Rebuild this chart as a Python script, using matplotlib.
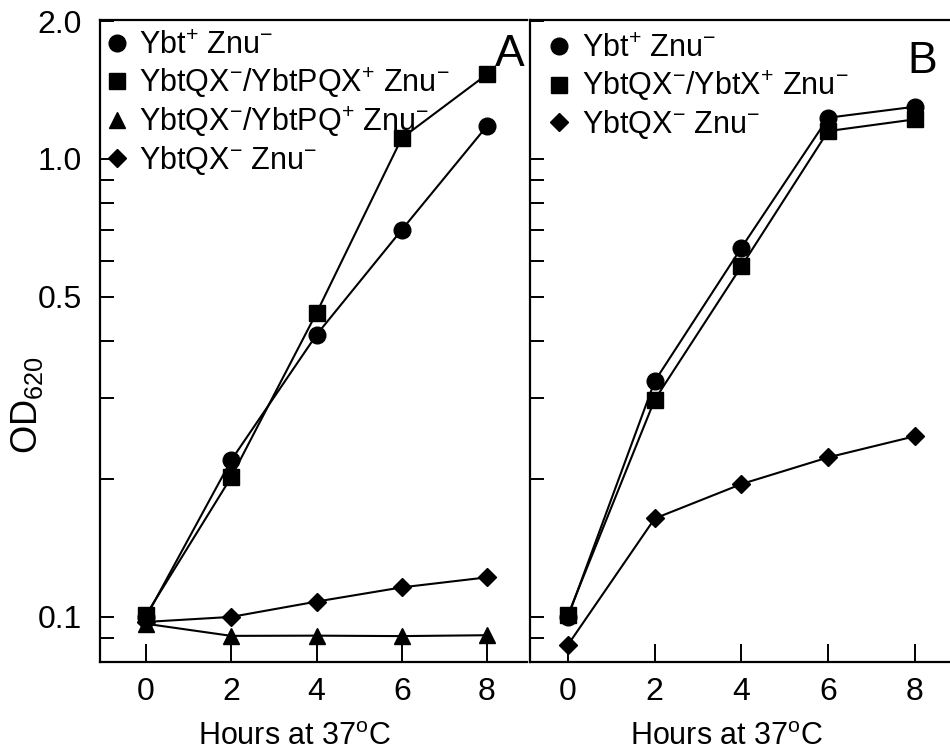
"""
Growth curves (OD620 vs time) for Ybt / Znu mutants, two panels, log y.
"""

import matplotlib
matplotlib.use("Agg")
import matplotlib.pyplot as plt
from matplotlib.lines import Line2D

plt.rcParams["font.family"] = ["Liberation Sans", "DejaVu Sans"]
plt.rcParams["mathtext.default"] = "regular"

# ---------------- DATA ----------------

HOURS = [0, 2, 4, 6, 8]

# panel A
A_YBT = [0.100, 0.220, 0.413, 0.700, 1.18]
A_PQX = [0.101, 0.202, 0.461, 1.11, 1.53]
A_PQ = [0.0966, 0.0909, 0.0910, 0.0908, 0.0912]
A_QX = [0.0975, 0.100, 0.108, 0.116, 0.122]
A_LABELS = ["Ybt$^{+}$ Znu$^{-}$",
            "YbtQX$^{-}$/YbtPQX$^{+}$ Znu$^{-}$",
            "YbtQX$^{-}$/YbtPQ$^{+}$ Znu$^{-}$",
            "YbtQX$^{-}$ Znu$^{-}$"]

# panel B
B_YBT = [0.100, 0.327, 0.640, 1.23, 1.30]
B_X = [0.101, 0.298, 0.583, 1.15, 1.22]
B_QX = [0.0869, 0.164, 0.195, 0.223, 0.248]
B_LABELS = ["Ybt$^{+}$ Znu$^{-}$",
            "YbtQX$^{-}$/YbtX$^{+}$ Znu$^{-}$",
            "YbtQX$^{-}$ Znu$^{-}$"]

Y_TICKS = [0.09, 0.1, 0.2, 0.3, 0.4, 0.5, 0.6, 0.7, 0.8, 0.9, 1.0, 2.0]
Y_TICK_LABELS = {0.1: "0.1", 0.5: "0.5", 1.0: "1.0", 2.0: "2.0"}
X_TICKS = [0, 2, 4, 6, 8]

# marker styles: (marker, size)
CIRCLE = ("o", 12)
SQUARE = ("s", 12)
TRIANGLE = ("^", 12)
DIAMOND = ("D", 9)

TICK_FS = 23
LEGEND_FS = 22
LABEL_FS = 22


def style_axes(ax, xlim, show_ylabels):
    ax.set_yscale("log")
    ax.set_ylim(0.0797, 2.01)
    ax.set_xlim(*xlim)
    ax.spines["right"].set_visible(False)
    for s in ("left", "top", "bottom"):
        ax.spines[s].set_linewidth(1.6)
    ax.minorticks_off()
    ax.set_yticks(Y_TICKS)
    if show_ylabels:
        ax.set_yticklabels([Y_TICK_LABELS.get(t, "") for t in Y_TICKS])
    else:
        ax.set_yticklabels([])
    ax.set_xticks(X_TICKS)
    ax.set_xticklabels([str(t) for t in X_TICKS])
    ax.tick_params(axis="y", which="both", direction="in", length=10, width=1.4,
                   labelsize=TICK_FS, pad=13, right=False)
    ax.tick_params(axis="x", direction="in", length=13, width=1.4,
                   labelsize=TICK_FS, pad=11, top=False)
    ax.set_xlabel("Hours at 37$^{o}$C", fontsize=LABEL_FS)


def draw_series(ax, y, style, z):
    m, ms = style
    ax.plot(HOURS, y, color="black", lw=1.5, marker=m, ms=ms,
            markeredgecolor="black", markerfacecolor="black", zorder=z)


def add_legend(ax, styles, labels, anchor, spacing):
    handles = [Line2D([], [], ls="none", marker=m, ms=ms, color="black")
               for m, ms in styles]
    ax.legend(handles, labels, loc="upper left", bbox_to_anchor=anchor,
              frameon=False, fontsize=LEGEND_FS, borderaxespad=0, borderpad=0,
              handlelength=0.55, handletextpad=0.45, labelspacing=spacing)


def main():
    fig = plt.figure(figsize=(9.5, 7.56), dpi=100)
    ax_a = fig.add_axes([0.1053, 0.1243, 0.4495, 0.8492])
    ax_b = fig.add_axes([0.5579, 0.1243, 0.4421, 0.8492])

    # ---- panel A ----
    style_axes(ax_a, (-1.08, 8.94), True)
    draw_series(ax_a, A_YBT, CIRCLE, 3)
    draw_series(ax_a, A_PQX, SQUARE, 4)
    draw_series(ax_a, A_PQ, TRIANGLE, 3)
    draw_series(ax_a, A_QX, DIAMOND, 3)
    add_legend(ax_a, [CIRCLE, SQUARE, TRIANGLE, DIAMOND], A_LABELS,
               (0.02, 0.983), 0.15)
    ax_a.text(0.995, 0.978, "A", transform=ax_a.transAxes, ha="right",
              va="top", fontsize=32)
    ax_a.set_ylabel("OD$_{620}$", fontsize=26)
    ax_a.yaxis.set_label_coords(-0.13, 0.40)
    ax_a.xaxis.set_label_coords(0.457, -0.093)

    # ---- panel B ----
    style_axes(ax_b, (-0.876, 8.81), False)
    draw_series(ax_b, B_YBT, CIRCLE, 3)
    draw_series(ax_b, B_X, SQUARE, 4)
    draw_series(ax_b, B_QX, DIAMOND, 3)
    add_legend(ax_b, [CIRCLE, SQUARE, DIAMOND], B_LABELS, (0.05, 0.978), 0.15)
    ax_b.text(0.97, 0.968, "B", transform=ax_b.transAxes, ha="right",
              va="top", fontsize=32)
    ax_b.xaxis.set_label_coords(0.469, -0.093)

    fig.savefig("out.png", dpi=100)


if __name__ == "__main__":
    main()
